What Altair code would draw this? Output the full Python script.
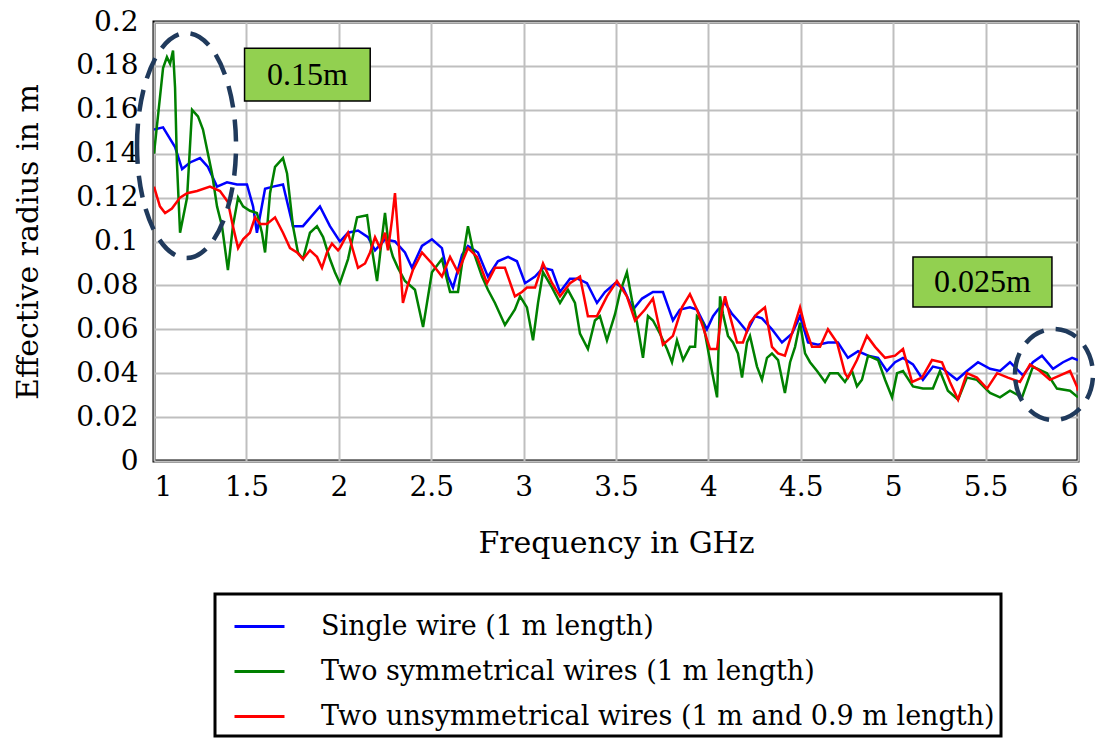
import altair as alt
import pandas as pd

SERIES = [
    "Single wire (1 m length)",
    "Two symmetrical wires (1 m length)",
    "Two unsymmetrical wires (1 m and 0.9 m length)",
]
COLORS = ["#0000ff", "#008000", "#ff0000"]

BLUE = [
    (1.000, 0.151), (1.049, 0.152), (1.114, 0.143), (1.152, 0.133), (1.195, 0.136),
    (1.249, 0.138), (1.292, 0.134), (1.341, 0.125), (1.395, 0.127), (1.449, 0.126),
    (1.503, 0.126), (1.536, 0.116), (1.557, 0.104), (1.601, 0.124), (1.644, 0.125),
    (1.698, 0.126), (1.752, 0.107), (1.806, 0.107), (1.898, 0.116), (1.952, 0.107),
    (2.006, 0.100), (2.050, 0.104), (2.104, 0.105), (2.158, 0.102), (2.196, 0.096),
    (2.250, 0.101), (2.304, 0.100), (2.358, 0.095), (2.396, 0.088), (2.450, 0.098),
    (2.504, 0.101), (2.558, 0.097), (2.591, 0.084), (2.618, 0.079), (2.667, 0.094),
    (2.699, 0.098), (2.753, 0.095), (2.807, 0.084), (2.861, 0.091), (2.916, 0.093),
    (2.964, 0.091), (3.008, 0.081), (3.062, 0.084), (3.105, 0.088), (3.154, 0.087),
    (3.197, 0.077), (3.251, 0.083), (3.294, 0.083), (3.343, 0.081), (3.397, 0.072),
    (3.440, 0.077), (3.495, 0.081), (3.538, 0.079), (3.592, 0.069), (3.641, 0.074),
    (3.700, 0.077), (3.754, 0.077), (3.808, 0.064), (3.846, 0.069), (3.900, 0.070),
    (3.938, 0.069), (3.992, 0.060), (4.025, 0.066), (4.052, 0.069), (4.090, 0.072),
    (4.128, 0.067), (4.160, 0.064), (4.209, 0.059), (4.252, 0.066), (4.290, 0.065),
    (4.344, 0.060), (4.398, 0.054), (4.452, 0.058), (4.496, 0.066), (4.539, 0.054),
    (4.593, 0.053), (4.647, 0.054), (4.701, 0.054), (4.755, 0.047), (4.810, 0.050),
    (4.864, 0.048), (4.918, 0.047), (4.966, 0.041), (5.010, 0.045), (5.053, 0.047),
    (5.107, 0.044), (5.161, 0.037), (5.215, 0.043), (5.269, 0.042), (5.345, 0.037),
    (5.399, 0.041), (5.459, 0.045), (5.524, 0.042), (5.578, 0.041), (5.632, 0.045),
    (5.702, 0.039), (5.756, 0.045), (5.805, 0.048), (5.865, 0.042), (5.919, 0.045),
    (5.968, 0.047), (6.000, 0.046),
]

GREEN = [
    (1.000, 0.140), (1.049, 0.179), (1.070, 0.184), (1.087, 0.181), (1.103, 0.187),
    (1.114, 0.170), (1.124, 0.136), (1.141, 0.104), (1.179, 0.120), (1.206, 0.160),
    (1.238, 0.157), (1.265, 0.151), (1.314, 0.131), (1.341, 0.116), (1.368, 0.107),
    (1.400, 0.087), (1.427, 0.107), (1.455, 0.120), (1.482, 0.116), (1.519, 0.114),
    (1.557, 0.113), (1.584, 0.104), (1.601, 0.095), (1.628, 0.122), (1.655, 0.134),
    (1.698, 0.138), (1.720, 0.131), (1.752, 0.107), (1.779, 0.095), (1.806, 0.092),
    (1.844, 0.104), (1.882, 0.107), (1.915, 0.102), (1.952, 0.092), (1.979, 0.086),
    (2.006, 0.081), (2.050, 0.092), (2.099, 0.111), (2.153, 0.112), (2.169, 0.102),
    (2.207, 0.082), (2.234, 0.102), (2.250, 0.113), (2.266, 0.101), (2.293, 0.093),
    (2.320, 0.088), (2.358, 0.082), (2.412, 0.078), (2.456, 0.061), (2.504, 0.086),
    (2.558, 0.092), (2.602, 0.077), (2.645, 0.077), (2.672, 0.093), (2.699, 0.107),
    (2.726, 0.096), (2.775, 0.084), (2.807, 0.078), (2.845, 0.072), (2.899, 0.062),
    (2.953, 0.069), (2.981, 0.075), (3.018, 0.070), (3.051, 0.055), (3.078, 0.072),
    (3.105, 0.086), (3.154, 0.079), (3.197, 0.072), (3.240, 0.078), (3.278, 0.072),
    (3.305, 0.058), (3.348, 0.051), (3.386, 0.064), (3.413, 0.066), (3.451, 0.055),
    (3.495, 0.067), (3.522, 0.077), (3.559, 0.086), (3.587, 0.073), (3.614, 0.063),
    (3.646, 0.047), (3.673, 0.066), (3.700, 0.064), (3.738, 0.058), (3.776, 0.051),
    (3.803, 0.045), (3.830, 0.055), (3.863, 0.046), (3.900, 0.052), (3.928, 0.052),
    (3.938, 0.066), (3.971, 0.063), (3.982, 0.058), (4.019, 0.041), (4.047, 0.029),
    (4.063, 0.075), (4.079, 0.067), (4.106, 0.057), (4.133, 0.054), (4.160, 0.049),
    (4.182, 0.038), (4.209, 0.054), (4.225, 0.057), (4.263, 0.043), (4.290, 0.037),
    (4.317, 0.047), (4.344, 0.049), (4.377, 0.046), (4.414, 0.031), (4.442, 0.045),
    (4.469, 0.052), (4.496, 0.063), (4.523, 0.049), (4.550, 0.045), (4.588, 0.041),
    (4.631, 0.036), (4.658, 0.040), (4.701, 0.040), (4.739, 0.036), (4.777, 0.041),
    (4.804, 0.034), (4.831, 0.037), (4.864, 0.048), (4.918, 0.046), (4.956, 0.037),
    (4.994, 0.029), (5.021, 0.040), (5.053, 0.041), (5.107, 0.034), (5.161, 0.033),
    (5.215, 0.033), (5.253, 0.041), (5.296, 0.032), (5.351, 0.028), (5.399, 0.038),
    (5.453, 0.037), (5.524, 0.031), (5.578, 0.029), (5.632, 0.032), (5.697, 0.029),
    (5.756, 0.043), (5.832, 0.040), (5.886, 0.033), (5.957, 0.032), (6.000, 0.029),
]

RED = [
    (1.000, 0.125), (1.032, 0.116), (1.060, 0.113), (1.097, 0.115), (1.141, 0.120),
    (1.179, 0.122), (1.233, 0.123), (1.303, 0.125), (1.357, 0.123), (1.400, 0.118),
    (1.427, 0.107), (1.455, 0.097), (1.482, 0.101), (1.519, 0.104), (1.547, 0.111),
    (1.574, 0.108), (1.611, 0.108), (1.655, 0.111), (1.698, 0.104), (1.736, 0.097),
    (1.774, 0.095), (1.806, 0.092), (1.844, 0.096), (1.882, 0.093), (1.909, 0.088),
    (1.936, 0.095), (1.963, 0.099), (1.996, 0.096), (2.006, 0.097), (2.050, 0.104),
    (2.077, 0.096), (2.104, 0.088), (2.142, 0.090), (2.169, 0.095), (2.196, 0.102),
    (2.223, 0.097), (2.250, 0.104), (2.266, 0.096), (2.288, 0.110), (2.304, 0.122),
    (2.320, 0.104), (2.347, 0.072), (2.369, 0.079), (2.401, 0.087), (2.450, 0.095),
    (2.504, 0.090), (2.558, 0.084), (2.602, 0.093), (2.645, 0.086), (2.699, 0.097),
    (2.748, 0.093), (2.802, 0.081), (2.845, 0.088), (2.899, 0.088), (2.953, 0.075),
    (2.991, 0.077), (3.018, 0.079), (3.062, 0.079), (3.105, 0.090), (3.154, 0.081),
    (3.197, 0.075), (3.251, 0.081), (3.305, 0.084), (3.348, 0.066), (3.397, 0.066),
    (3.451, 0.075), (3.505, 0.082), (3.559, 0.075), (3.603, 0.064), (3.657, 0.069),
    (3.700, 0.074), (3.754, 0.053), (3.808, 0.057), (3.857, 0.070), (3.900, 0.076),
    (3.938, 0.069), (3.971, 0.061), (4.009, 0.051), (4.047, 0.051), (4.074, 0.069),
    (4.090, 0.075), (4.117, 0.066), (4.155, 0.054), (4.187, 0.054), (4.225, 0.063),
    (4.263, 0.067), (4.306, 0.070), (4.344, 0.052), (4.377, 0.049), (4.414, 0.048),
    (4.452, 0.058), (4.496, 0.070), (4.523, 0.061), (4.561, 0.052), (4.604, 0.052),
    (4.647, 0.060), (4.696, 0.054), (4.739, 0.040), (4.755, 0.038), (4.804, 0.046),
    (4.858, 0.057), (4.902, 0.052), (4.956, 0.047), (5.010, 0.048), (5.053, 0.051),
    (5.102, 0.036), (5.156, 0.038), (5.210, 0.046), (5.264, 0.045), (5.307, 0.036),
    (5.351, 0.028), (5.399, 0.040), (5.453, 0.038), (5.508, 0.033), (5.562, 0.040),
    (5.621, 0.038), (5.686, 0.036), (5.740, 0.044), (5.794, 0.041), (5.848, 0.037),
    (5.903, 0.039), (5.957, 0.041), (5.994, 0.034), (6.000, 0.032),
]

X_TICKS = [1, 1.5, 2, 2.5, 3, 3.5, 4, 4.5, 5, 5.5, 6]
Y_TICKS = [0, 0.02, 0.04, 0.06, 0.08, 0.1, 0.12, 0.14, 0.16, 0.18, 0.2]

# annotations (data coordinates)
BOX_LABELS = ["0.15m", "0.025m"]
BOX_X = [1.49, 5.107]
BOX_X2 = [2.17, 5.859]
BOX_Y = [0.164, 0.0702]
BOX_Y2 = [0.188, 0.0929]
ELLIPSE_F = [1.176, 5.870]
ELLIPSE_R = [0.1437, 0.0394]

rows = []
for name, pts in zip(SERIES, [BLUE, GREEN, RED]):
    for f, r in pts:
        rows.append({"freq": f, "radius": r, "series": name})
df = pd.DataFrame(rows)

FONT = "DejaVu Serif"
xscale = alt.Scale(domain=[1, 6], nice=False, zero=False)
yscale = alt.Scale(domain=[0, 0.2], nice=False, zero=False)

lines = alt.Chart(df).mark_line(strokeWidth=2.5, clip=True).encode(
    x=alt.X("freq:Q", scale=xscale,
            axis=alt.Axis(values=X_TICKS, format="~g", title="Frequency in GHz",
                          grid=True, gridColor="#bfbfbf", gridWidth=2, gridOpacity=1,
                          domain=False, ticks=False, labelPadding=12,
                          labelFont=FONT, labelFontSize=28, labelColor="black",
                          titleFont=FONT, titleFontSize=30, titleFontWeight="normal",
                          titleColor="black", titleY=82, titleBaseline="middle")),
    y=alt.Y("radius:Q", scale=yscale,
            axis=alt.Axis(values=Y_TICKS, format="~g", title="Effective radius in m",
                          grid=True, gridColor="#bfbfbf", gridWidth=2, gridOpacity=1,
                          domain=False, ticks=False, labelPadding=16,
                          labelFont=FONT, labelFontSize=28, labelColor="black",
                          titleFont=FONT, titleFontSize=30, titleFontWeight="normal",
                          titleColor="black", titleX=-126, titleBaseline="middle")),
    color=alt.Color("series:N", scale=alt.Scale(domain=SERIES, range=COLORS),
                    sort=SERIES,
                    legend=alt.Legend(title=None, orient="none", legendX=61, legendY=572,
                                      labelFont=FONT, labelFontSize=27, labelColor="black",
                                      labelLimit=1000, symbolType="stroke",
                                      symbolSize=2500, symbolStrokeWidth=3,
                                      symbolOffset=12,
                                      labelOffset=35, rowPadding=5, padding=6,
                                      strokeColor="black", fillColor="white")),
    order=alt.Order("series:N"),
)

boxes_df = pd.DataFrame({"x": BOX_X, "x2": BOX_X2, "y": BOX_Y, "y2": BOX_Y2,
                         "label": BOX_LABELS,
                         "cx": [(a + b) / 2 for a, b in zip(BOX_X, BOX_X2)],
                         "cy": [(a + b) / 2 for a, b in zip(BOX_Y, BOX_Y2)]})

boxes = alt.Chart(boxes_df).mark_rect(fill="#92d050", stroke="black", strokeWidth=1.5).encode(
    x=alt.X("x:Q", scale=xscale), x2="x2:Q",
    y=alt.Y("y:Q", scale=yscale), y2="y2:Q",
)
box_text = alt.Chart(boxes_df).mark_text(font="Liberation Serif", fontSize=32,
                                         color="black", baseline="middle").encode(
    x=alt.X("cx:Q", scale=xscale), y=alt.Y("cy:Q", scale=yscale), text="label:N"
)

ELL1 = "M -0.44 0 A 0.44 1 0 1 1 0.44 0 A 0.44 1 0 1 1 -0.44 0 Z"
ELL2 = "M -0.857 0 A 0.857 1 0 1 1 0.857 0 A 0.857 1 0 1 1 -0.857 0 Z"
ell_df1 = pd.DataFrame({"f": ELLIPSE_F[:1], "r": ELLIPSE_R[:1]})
ell_df2 = pd.DataFrame({"f": ELLIPSE_F[1:], "r": ELLIPSE_R[1:]})
ell1 = alt.Chart(ell_df1).mark_point(shape=ELL1, size=50625, filled=False,
                                     stroke="#203a5c", strokeWidth=4.5, opacity=1,
                                     strokeDash=[22, 12]).encode(
    x=alt.X("f:Q", scale=xscale), y=alt.Y("r:Q", scale=yscale))
ell2 = alt.Chart(ell_df2).mark_point(shape=ELL2, size=8281, filled=False,
                                     stroke="#203a5c", strokeWidth=4.5, opacity=1,
                                     strokeDash=[22, 12]).encode(
    x=alt.X("f:Q", scale=xscale), y=alt.Y("r:Q", scale=yscale))

chart = alt.layer(lines, boxes, box_text, ell1, ell2).properties(
    width=924, height=439,
    autosize=alt.AutoSizeParams(type="none"),
    padding={"left": 154, "top": 22, "right": 17, "bottom": 286},
).configure_view(stroke="black", strokeWidth=3).configure_legend(strokeWidth=3)

chart.save("out.html", embed_options={"renderer": "svg", "actions": False})
